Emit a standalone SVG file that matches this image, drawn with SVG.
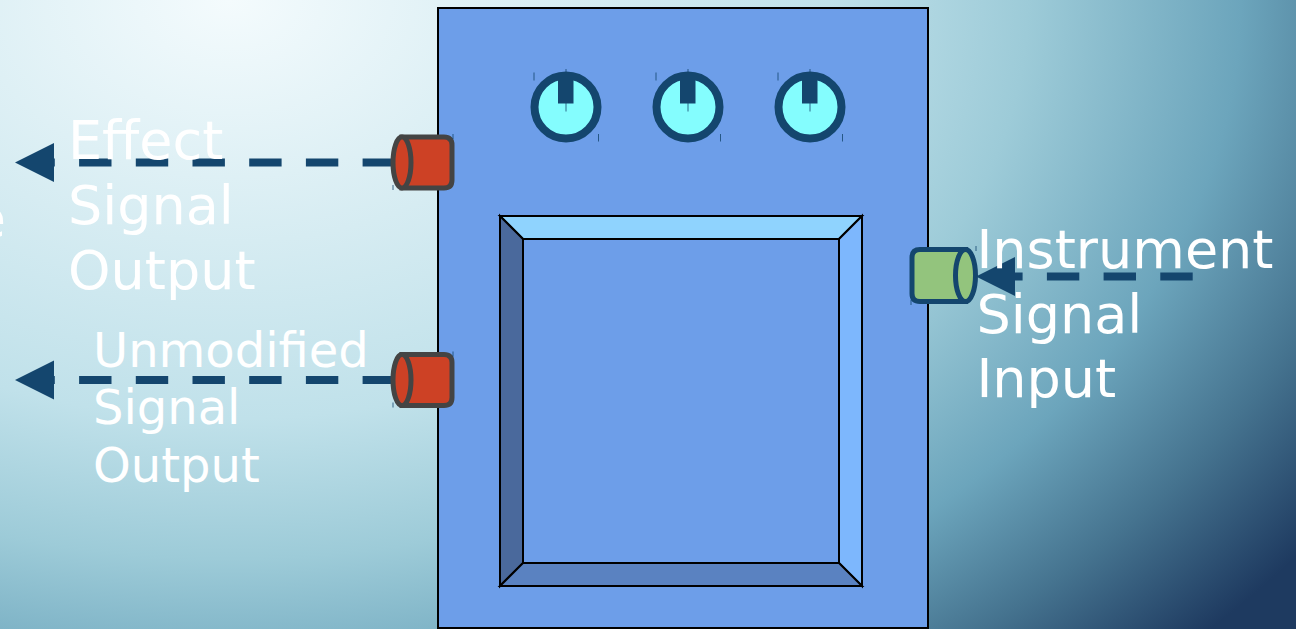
<svg xmlns="http://www.w3.org/2000/svg" width="1296" height="629" viewBox="0 0 1296 629">
<defs>
<radialGradient id="bg" gradientUnits="userSpaceOnUse" cx="230" cy="0" r="1330" gradientTransform="translate(230 0) scale(1 0.7) translate(-230 0)">
<stop offset="0" stop-color="#f4fbfd"/>
<stop offset="0.45" stop-color="#c0e1ea"/>
<stop offset="0.6" stop-color="#9dcbd8"/>
<stop offset="0.76" stop-color="#6ca5bc"/>
<stop offset="0.88" stop-color="#45738f"/>
<stop offset="1" stop-color="#1e3a60"/>
</radialGradient>
<marker id="ah" markerUnits="userSpaceOnUse" markerWidth="40" markerHeight="40" refX="0" refY="20" orient="auto" viewBox="0 0 40 40">
<path d="M0,0.5 L39,20 L0,39.5 Z" fill="#14466e"/>
</marker>
<style>
.lbl{font-family:"DejaVu Sans",sans-serif;fill:#ffffff}
.knob circle{fill:#84fdfe;stroke:#14466e;stroke-width:8}
.knob rect{fill:#14466e}
.tick{stroke:#14466e;stroke-width:1;opacity:0.8}
.jr{fill:#cd4125;stroke:#444444;stroke-width:5}
.jg{fill:#93c47d;stroke:#14466e;stroke-width:5}
.conn{fill:none;stroke:#14466e;stroke-width:8.1;stroke-dasharray:32.4 24.3}
.edge{stroke:#000;stroke-width:2;stroke-linejoin:miter}
</style>
</defs>
<rect width="1296" height="629" fill="url(#bg)"/>
<text class="lbl" x="6" y="237" font-size="54" text-anchor="end">e</text>

<g id="pedal">
<rect x="438" y="8" width="490" height="620" fill="#6d9ee9" stroke="#000" stroke-width="2"/>
</g>

<g id="screen">
<polygon points="500,216 862,216 839,239 523,239" fill="#8fd3fe" class="edge"/>
<polygon points="500,216 523,239 523,563 500,586" fill="#4a699c" class="edge"/>
<polygon points="862,216 862,586 839,563 839,239" fill="#7db7fd" class="edge"/>
<polygon points="500,586 523,563 839,563 862,586" fill="#5a82c1" class="edge"/>
<rect x="523" y="239" width="316" height="324" fill="#6d9ee9" class="edge"/>
</g>

<g id="knob1" class="knob">
<circle cx="566" cy="107" r="31.5"/>
<rect x="558" y="73" width="15.5" height="30.5"/>
<line class="tick" x1="534" y1="72.5" x2="534" y2="80.5"/>
<line class="tick" x1="566" y1="69" x2="566" y2="74"/>
<line class="tick" x1="566" y1="103" x2="566" y2="111.5"/>
<line class="tick" x1="598.5" y1="134" x2="598.5" y2="141.5"/>
</g>
<g id="knob2" class="knob" transform="translate(122 0)">
<circle cx="566" cy="107" r="31.5"/>
<rect x="558" y="73" width="15.5" height="30.5"/>
<line class="tick" x1="534" y1="72.5" x2="534" y2="80.5"/>
<line class="tick" x1="566" y1="69" x2="566" y2="74"/>
<line class="tick" x1="566" y1="103" x2="566" y2="111.5"/>
<line class="tick" x1="598.5" y1="134" x2="598.5" y2="141.5"/>
</g>
<g id="knob3" class="knob" transform="translate(244 0)">
<circle cx="566" cy="107" r="31.5"/>
<rect x="558" y="73" width="15.5" height="30.5"/>
<line class="tick" x1="534" y1="72.5" x2="534" y2="80.5"/>
<line class="tick" x1="566" y1="69" x2="566" y2="74"/>
<line class="tick" x1="566" y1="103" x2="566" y2="111.5"/>
<line class="tick" x1="598.5" y1="134" x2="598.5" y2="141.5"/>
</g>

<g id="connectors">
<path class="conn" d="M395,162.5 H54" marker-end="url(#ah)"/>
<path class="conn" d="M395,380 H54" marker-end="url(#ah)"/>
<path class="conn" d="M1192.7,276.5 H1015" marker-end="url(#ah)"/>
</g>

<g id="jack-effect-out">
<path class="jr" d="M402,137 H444 Q452,137 452,145 V180 Q452,188 444,188 H402 Z"/>
<ellipse class="jr" cx="402" cy="162.5" rx="9" ry="25.5"/>
<line class="tick" x1="453" y1="134" x2="453" y2="139"/>
<line class="tick" x1="393" y1="185" x2="393" y2="190"/>
</g>
<g id="jack-dry-out">
<path class="jr" d="M402,354.5 H444 Q452,354.5 452,362.5 V397.5 Q452,405.5 444,405.5 H402 Z"/>
<ellipse class="jr" cx="402" cy="380" rx="9" ry="25.5"/>
<line class="tick" x1="453" y1="351.5" x2="453" y2="356.5"/>
<line class="tick" x1="393" y1="402.5" x2="393" y2="407.5"/>
</g>
<g id="jack-input">
<path class="jg" d="M965.5,249.5 H920 Q912,249.5 912,257.5 V293.5 Q912,301.5 920,301.5 H965.5 Z"/>
<ellipse class="jg" cx="965.5" cy="275.5" rx="10" ry="26"/>
<line class="tick" x1="976" y1="246" x2="976" y2="251"/>
<line class="tick" x1="911" y1="300" x2="911" y2="305"/>
</g>

<g id="label-effect">
<text class="lbl" font-size="54" x="68" y="159.4">Effect</text>
<text class="lbl" font-size="54" x="68" y="224.2">Signal</text>
<text class="lbl" font-size="54" x="68" y="289">Output</text>
</g>
<g id="label-dry">
<text class="lbl" font-size="48" x="93" y="366.7">Unmodified</text>
<text class="lbl" font-size="48" x="93" y="424.3">Signal</text>
<text class="lbl" font-size="48" x="93" y="481.9">Output</text>
</g>
<g id="label-input">
<text class="lbl" font-size="54" x="976.4" y="267.7">Instrument</text>
<text class="lbl" font-size="54" x="976.4" y="332.5">Signal</text>
<text class="lbl" font-size="54" x="976.4" y="397.3">Input</text>
</g>
</svg>
